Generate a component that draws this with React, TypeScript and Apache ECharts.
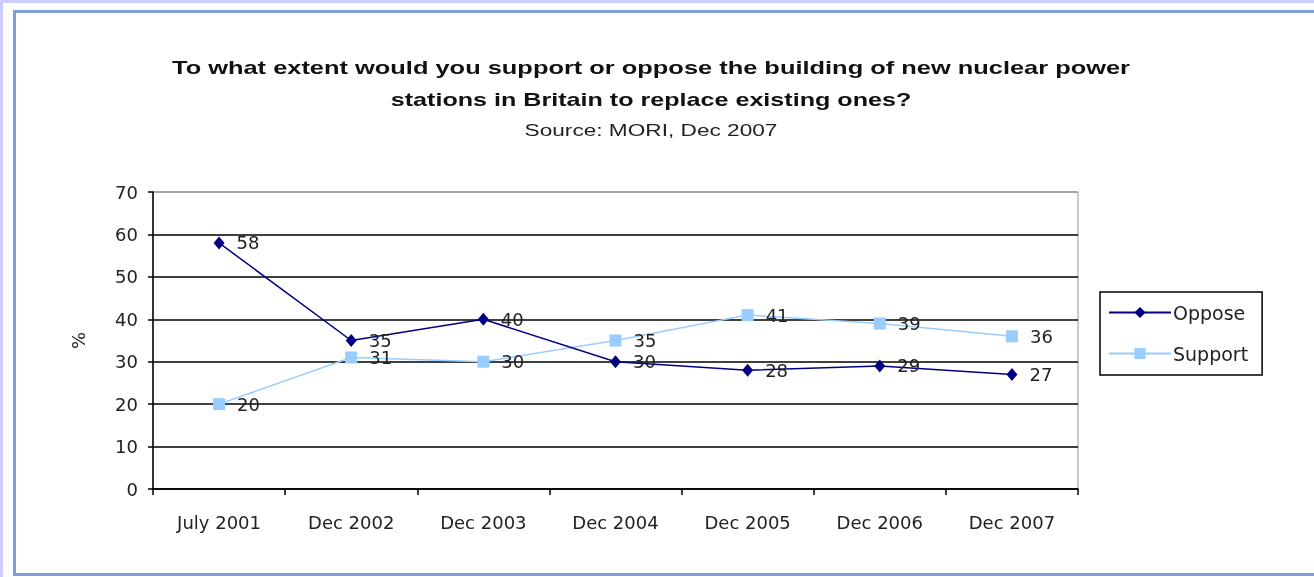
import React, { useEffect, useRef } from "react";
import * as echarts from "echarts";

const categories = ["July 2001", "Dec 2002", "Dec 2003", "Dec 2004", "Dec 2005", "Dec 2006", "Dec 2007"];
const oppose = [58, 35, 40, 30, 28, 29, 27];
const support = [20, 31, 30, 35, 41, 39, 36];
const titleLine1 = "To what extent would you support or oppose the building of new nuclear power";
const titleLine2 = "stations in Britain to replace existing ones?";
const sourceLine = "Source: MORI, Dec 2007";

const FONT = "'DejaVu Sans', 'Liberation Sans', Arial, sans-serif";
const TFONT = "'Liberation Sans', Arial, sans-serif";

function measure(text: string, font: string): number {
  const c = document.createElement("canvas").getContext("2d");
  if (!c) return 0;
  c.font = font;
  return c.measureText(text).width;
}

export default function App() {
  const ref = useRef<HTMLDivElement>(null);
  useEffect(() => {
    if (!ref.current) return;
    const chart = echarts.init(ref.current, null, { renderer: "svg" });
    const w1 = measure(titleLine1, `bold 18px ${TFONT}`) || 958;
    const w2 = measure(titleLine2, `bold 18px ${TFONT}`) || 521;
    const w3 = measure(sourceLine, `17px ${TFONT}`) || 253;
    const s1 = 958 / w1;
    const s2 = 521 / w2;
    const s3 = 253 / w3;
    chart.setOption({
      animation: false,
      textStyle: { fontFamily: FONT },
      graphic: [
        { type: "rect", z: -10, silent: true, shape: { x: 0, y: 0, width: 1314, height: 577 }, style: { fill: "#ccccff" } },
        { type: "rect", z: -9, silent: true, shape: { x: 3, y: 3, width: 1311, height: 574 }, style: { fill: "#ffffff" } },
        { type: "rect", z: -8, silent: true, shape: { x: 14.5, y: 11.5, width: 1320, height: 563 }, style: { fill: "none", stroke: "#7e9ed8", lineWidth: 3 } },
        { type: "text", x: 651, y: 68, scaleX: s1, style: { text: titleLine1, fontFamily: TFONT, fontWeight: "bold", fontSize: 18, fill: "#111", textAlign: "center", textVerticalAlign: "middle" } },
        { type: "text", x: 651, y: 100, scaleX: s2, style: { text: titleLine2, fontFamily: TFONT, fontWeight: "bold", fontSize: 18, fill: "#111", textAlign: "center", textVerticalAlign: "middle" } },
        { type: "text", x: 651, y: 130, scaleX: s3, style: { text: sourceLine, fontFamily: TFONT, fontSize: 17, fill: "#222", textAlign: "center", textVerticalAlign: "middle" } },
      ],
      grid: { left: 153, right: 236, top: 192, bottom: 88, show: true, borderColor: "#999", borderWidth: 1, backgroundColor: "transparent" },
      legend: {
        orient: "vertical",
        left: 1100,
        top: 292,
        padding: [11, 14, 12, 8],
        borderColor: "#000",
        borderWidth: 1.5,
        itemWidth: 62,
        itemHeight: 14,
        itemGap: 22,
        textStyle: { fontFamily: FONT, fontSize: 19, color: "#222", padding: [0, 0, 0, -3] },
        data: ["Oppose", "Support"],
      },
      xAxis: {
        type: "category",
        data: categories,
        boundaryGap: true,
        axisLine: { lineStyle: { color: "#000", width: 1.5 } },
        axisTick: { show: true, length: 6, lineStyle: { color: "#000", width: 1.5 } },
        axisLabel: { fontFamily: FONT, fontSize: 18, color: "#222", margin: 24 },
        splitLine: { show: false },
      },
      yAxis: {
        type: "value",
        min: 0,
        max: 70,
        interval: 10,
        name: "%",
        nameLocation: "middle",
        nameRotate: 90,
        nameGap: 66,
        nameTextStyle: { fontFamily: FONT, fontSize: 18, color: "#222" },
        axisLine: { show: true, lineStyle: { color: "#000", width: 1.5 } },
        axisTick: { show: true, length: 5, lineStyle: { color: "#000", width: 1.5 } },
        axisLabel: { fontFamily: FONT, fontSize: 18, color: "#222", margin: 15 },
        splitLine: { show: true, lineStyle: { color: ["#000", "#000", "#000", "#000", "#000", "#000", "#000", "#999"], width: 1.5 } },
      },
      series: [
        {
          name: "Oppose",
          type: "line",
          data: oppose,
          symbol: "diamond",
          symbolSize: [11, 13],
          itemStyle: { color: "#000080" },
          lineStyle: { color: "#000080", width: 1.5 },
          label: { show: true, position: "right", distance: 12, fontFamily: FONT, fontSize: 18, color: "#222" },
          z: 3,
        },
        {
          name: "Support",
          type: "line",
          data: support,
          symbol: "rect",
          symbolSize: 12,
          itemStyle: { color: "#99ccff" },
          lineStyle: { color: "#99ccff", width: 1.5 },
          label: { show: true, position: "right", distance: 12, fontFamily: FONT, fontSize: 18, color: "#222" },
          z: 2,
        },
      ],
    });
    return () => chart.dispose();
  }, []);
  return <div ref={ref} style={{ position: "fixed", left: 0, top: 0, width: 1314, height: 577 }} />;
}
